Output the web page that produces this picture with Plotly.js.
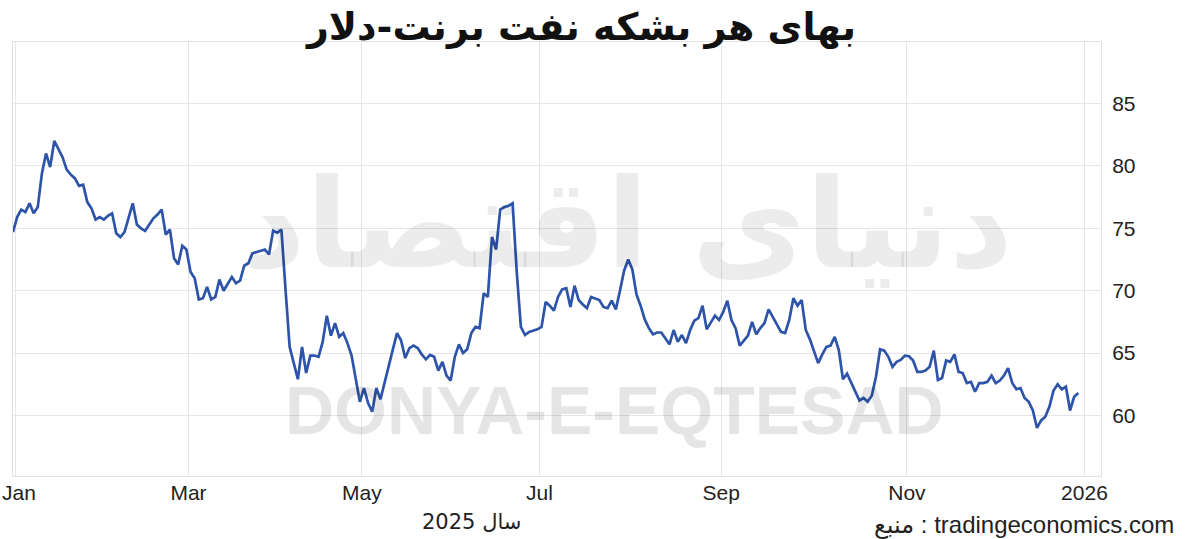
<!DOCTYPE html>
<html>
<head>
<meta charset="utf-8">
<script src="https://cdn.plot.ly/plotly-3.0.1.min.js"></script>
<style>
  html, body { margin: 0; padding: 0; background: #ffffff; }
  #chart { width: 1200px; height: 539px; }
</style>
</head>
<body>
<div id="chart"></div>
<script>
// Trading days shown on the chart (ICE Brent, continuous contract)
const dates = [
  '2024-12-31',
  '2025-01-02','2025-01-03','2025-01-06','2025-01-07','2025-01-08','2025-01-09','2025-01-10','2025-01-13','2025-01-14','2025-01-15','2025-01-16','2025-01-17','2025-01-20','2025-01-21','2025-01-22','2025-01-23','2025-01-24','2025-01-27','2025-01-28','2025-01-29','2025-01-30','2025-01-31',
  '2025-02-03','2025-02-04','2025-02-05','2025-02-06','2025-02-07','2025-02-10','2025-02-11','2025-02-12','2025-02-13','2025-02-14','2025-02-17','2025-02-18','2025-02-19','2025-02-20','2025-02-21','2025-02-24','2025-02-25','2025-02-26','2025-02-27','2025-02-28',
  '2025-03-03','2025-03-04','2025-03-05','2025-03-06','2025-03-07','2025-03-10','2025-03-11','2025-03-12','2025-03-13','2025-03-14','2025-03-17','2025-03-18','2025-03-19','2025-03-20','2025-03-21','2025-03-24','2025-03-25','2025-03-26','2025-03-27','2025-03-28','2025-03-31',
  '2025-04-01','2025-04-02','2025-04-03','2025-04-04','2025-04-07','2025-04-08','2025-04-09','2025-04-10','2025-04-11','2025-04-14','2025-04-15','2025-04-16','2025-04-17','2025-04-21','2025-04-22','2025-04-23','2025-04-24','2025-04-25','2025-04-28','2025-04-29','2025-04-30',
  '2025-05-01','2025-05-02','2025-05-05','2025-05-06','2025-05-07','2025-05-08','2025-05-09','2025-05-12','2025-05-13','2025-05-14','2025-05-15','2025-05-16','2025-05-19','2025-05-20','2025-05-21','2025-05-22','2025-05-23','2025-05-26','2025-05-27','2025-05-28','2025-05-29','2025-05-30',
  '2025-06-02','2025-06-03','2025-06-04','2025-06-05','2025-06-06','2025-06-09','2025-06-10','2025-06-11','2025-06-12','2025-06-13','2025-06-16','2025-06-17','2025-06-18','2025-06-19','2025-06-20','2025-06-23','2025-06-24','2025-06-25','2025-06-26','2025-06-27','2025-06-30',
  '2025-07-01','2025-07-02','2025-07-03','2025-07-04','2025-07-07','2025-07-08','2025-07-09','2025-07-10','2025-07-11','2025-07-14','2025-07-15','2025-07-16','2025-07-17','2025-07-18','2025-07-21','2025-07-22','2025-07-23','2025-07-24','2025-07-25','2025-07-28','2025-07-29','2025-07-30','2025-07-31',
  '2025-08-01','2025-08-04','2025-08-05','2025-08-06','2025-08-07','2025-08-08','2025-08-11','2025-08-12','2025-08-13','2025-08-14','2025-08-15','2025-08-18','2025-08-19','2025-08-20','2025-08-21','2025-08-22','2025-08-25','2025-08-26','2025-08-27','2025-08-28','2025-08-29',
  '2025-09-01','2025-09-02','2025-09-03','2025-09-04','2025-09-05','2025-09-08','2025-09-09','2025-09-10','2025-09-11','2025-09-12','2025-09-15','2025-09-16','2025-09-17','2025-09-18','2025-09-19','2025-09-22','2025-09-23','2025-09-24','2025-09-25','2025-09-26','2025-09-29','2025-09-30',
  '2025-10-01','2025-10-02','2025-10-03','2025-10-06','2025-10-07','2025-10-08','2025-10-09','2025-10-10','2025-10-13','2025-10-14','2025-10-15','2025-10-16','2025-10-17','2025-10-20','2025-10-21','2025-10-22','2025-10-23','2025-10-24','2025-10-27','2025-10-28','2025-10-29','2025-10-30','2025-10-31',
  '2025-11-03','2025-11-04','2025-11-05','2025-11-06','2025-11-07','2025-11-10','2025-11-11','2025-11-12','2025-11-13','2025-11-14','2025-11-17','2025-11-18','2025-11-19','2025-11-20','2025-11-21','2025-11-24','2025-11-25','2025-11-26','2025-11-27','2025-11-28',
  '2025-12-01','2025-12-02','2025-12-03','2025-12-04','2025-12-05','2025-12-08','2025-12-09','2025-12-10','2025-12-11','2025-12-12','2025-12-15','2025-12-16','2025-12-17','2025-12-18','2025-12-19','2025-12-22','2025-12-23','2025-12-24','2025-12-25','2025-12-26','2025-12-29','2025-12-30'
];

// Brent price, USD per barrel
const brentPrice = [
  74.7,
  75.9, 76.5, 76.3, 77.0, 76.2, 76.7, 79.4, 81.0, 79.9, 82.0, 81.3, 80.7, 79.7, 79.3, 79.0, 78.4, 78.5, 77.1, 76.6, 75.7, 75.9, 75.7,
  76.0, 76.2, 74.6, 74.3, 74.7, 75.9, 77.0, 75.3, 75.0, 74.8, 75.3, 75.8, 76.1, 76.5, 74.5, 74.9, 72.6, 72.1, 73.6, 73.3,
  71.5, 71.0, 69.3, 69.4, 70.3, 69.3, 69.5, 70.9, 70.0, 70.6, 71.1, 70.6, 70.8, 72.0, 72.2, 73.0, 73.1, 73.2, 73.3, 72.9, 74.8,
  74.65, 74.9, 70.1, 65.5, 64.2, 62.9, 65.5, 63.4, 64.8, 64.8, 64.7, 65.9, 68.0, 66.4, 67.4, 66.3, 66.6, 65.8, 64.8, 63.0, 61.1,
  62.2, 61.0, 60.3, 62.2, 61.3, 62.7, 63.9, 65.3, 66.6, 66.0, 64.6, 65.4, 65.6, 65.4, 64.9, 64.5, 64.85, 64.7, 63.6, 64.3, 63.2, 62.8,
  64.7, 65.7, 65.0, 65.3, 66.6, 67.1, 67.0, 69.8, 69.5, 74.3, 73.3, 76.5, 76.7, 76.8, 77.0, 71.5, 67.1, 66.45, 66.7, 66.8, 66.9,
  67.1, 69.1, 68.8, 68.4, 69.5, 70.1, 70.2, 68.7, 70.4, 69.25, 68.9, 68.6, 69.5, 69.4, 69.25, 68.7, 68.6, 69.2, 68.5, 70.0, 71.6, 72.5, 71.7,
  69.7, 68.8, 67.7, 67.0, 66.5, 66.65, 66.65, 66.2, 65.7, 66.85, 65.9, 66.45, 65.8, 66.85, 67.6, 67.8, 68.8, 66.9, 67.4, 68.0, 67.65,
  68.3, 69.2, 67.65, 67.0, 65.6, 66.0, 66.4, 67.5, 66.5, 67.0, 67.4, 68.5, 67.9, 67.4, 66.7, 66.6, 67.65, 69.4, 68.8, 69.25, 66.85, 66.1,
  65.2, 64.2, 64.9, 65.5, 65.6, 66.3, 65.25, 62.9, 63.35, 62.6, 61.9, 61.2, 61.4, 61.1, 61.6, 63.1, 65.3, 65.2, 64.7, 63.9, 64.3, 64.45, 64.8,
  64.75, 64.4, 63.5, 63.5, 63.6, 63.9, 65.2, 62.85, 63.0, 64.4, 64.3, 64.9, 63.5, 63.4, 62.6, 62.7, 61.9, 62.6, 62.6, 62.7,
  63.2, 62.6, 62.8, 63.2, 63.8, 62.6, 62.1, 62.2, 61.4, 61.1, 60.4, 59.0, 59.6, 59.9, 60.7, 62.0, 62.5, 62.1, 62.3, 60.4, 61.5, 61.8
];

// Axis ticks (the first month label is drawn left-aligned, as in the source chart)
const xTickVals = ['2024-12-31 12:00','2025-02-28 12:00','2025-04-30 12:00','2025-06-30 12:00','2025-08-29 12:00','2025-10-31 12:00','2025-12-31 12:00'];
const xTickText = ['','Mar','May','Jul','Sep','Nov','2026'];
const firstMonthLabel = 'Jan';
const yTickVals = [60, 65, 70, 75, 80, 85];

// Texts
const titleText = 'بهای هر بشکه نفت برنت-دلار';
const yearText = 'سال 2025';
const sourceText = 'منبع : tradingeconomics.com';
const watermarkLatin = 'DONYA-E-EQTESAD';
const watermarkPersian = 'دنیای اقتصاد';

const tickFont = { family: 'Liberation Sans, Arial, sans-serif', size: 21, color: '#222222' };

const trace = {
  type: 'scatter',
  mode: 'lines',
  x: dates,
  y: brentPrice,
  line: { color: '#2d54a8', width: 2.7 },
  hoverinfo: 'x+y'
};

const layout = {
  width: 1200,
  height: 539,
  margin: { l: 13, r: 99, t: 42, b: 63 },
  paper_bgcolor: '#ffffff',
  plot_bgcolor: '#ffffff',
  showlegend: false,
  title: {
    text: '<b>' + titleText + '</b>',
    font: { family: 'DejaVu Sans', size: 38, color: '#111111' },
    x: 0.4846, xanchor: 'center', xref: 'container',
    y: 0.95, yanchor: 'middle', yref: 'container'
  },
  xaxis: {
    type: 'date',
    range: ['2024-12-31', '2026-01-06 12:00'],
    rangebreaks: [
      { bounds: ['sat', 'mon'] },
      { values: ['2025-01-01', '2025-04-18'] }
    ],
    tickmode: 'array',
    tickvals: xTickVals,
    ticktext: xTickText,
    showgrid: true,
    gridcolor: '#e6e6e6',
    gridwidth: 1,
    showline: true,
    mirror: true,
    linecolor: '#e2e2e2',
    linewidth: 1,
    ticks: '',
    ticklabelstandoff: -2,
    zeroline: false,
    tickfont: tickFont
  },
  yaxis: {
    side: 'right',
    range: [55.15, 89.93],
    tickmode: 'array',
    tickvals: yTickVals,
    showgrid: true,
    gridcolor: '#e6e6e6',
    gridwidth: 1,
    showline: true,
    mirror: true,
    linecolor: '#e2e2e2',
    linewidth: 1,
    ticks: '',
    ticklabelstandoff: 6,
    zeroline: false,
    tickfont: tickFont
  },
  annotations: [
    {
      text: '<b>' + watermarkPersian + '</b>',
      xref: 'paper', yref: 'paper', x: 0.565, y: 0.58,
      xanchor: 'center', yanchor: 'middle', showarrow: false,
      font: { family: 'DejaVu Sans', size: 124, color: 'rgba(0,0,0,0.075)' }
    },
    {
      text: '<b>' + watermarkLatin + '</b>',
      xref: 'paper', yref: 'paper', x: 0.5524, y: 0.152,
      xanchor: 'center', yanchor: 'middle', showarrow: false,
      font: { family: 'Liberation Sans, Arial, sans-serif', size: 68, color: 'rgba(0,0,0,0.1)' }
    },
    {
      text: firstMonthLabel,
      xref: 'paper', yref: 'paper', x: -0.0115, y: -0.0369,
      xanchor: 'left', yanchor: 'middle', showarrow: false,
      font: tickFont
    },
    {
      text: yearText,
      xref: 'paper', yref: 'paper', x: 0.421, y: -0.106,
      xanchor: 'center', yanchor: 'middle', showarrow: false,
      font: { family: 'DejaVu Sans', size: 21, color: '#222222' }
    },
    {
      text: sourceText,
      xref: 'paper', yref: 'paper', x: 0.929, y: -0.113,
      xanchor: 'center', yanchor: 'middle', showarrow: false,
      font: { family: 'Liberation Sans, DejaVu Sans, sans-serif', size: 24, color: '#222222' }
    }
  ]
};

Plotly.newPlot('chart', [trace], layout, { displayModeBar: false, staticPlot: true });
</script>
</body>
</html>
